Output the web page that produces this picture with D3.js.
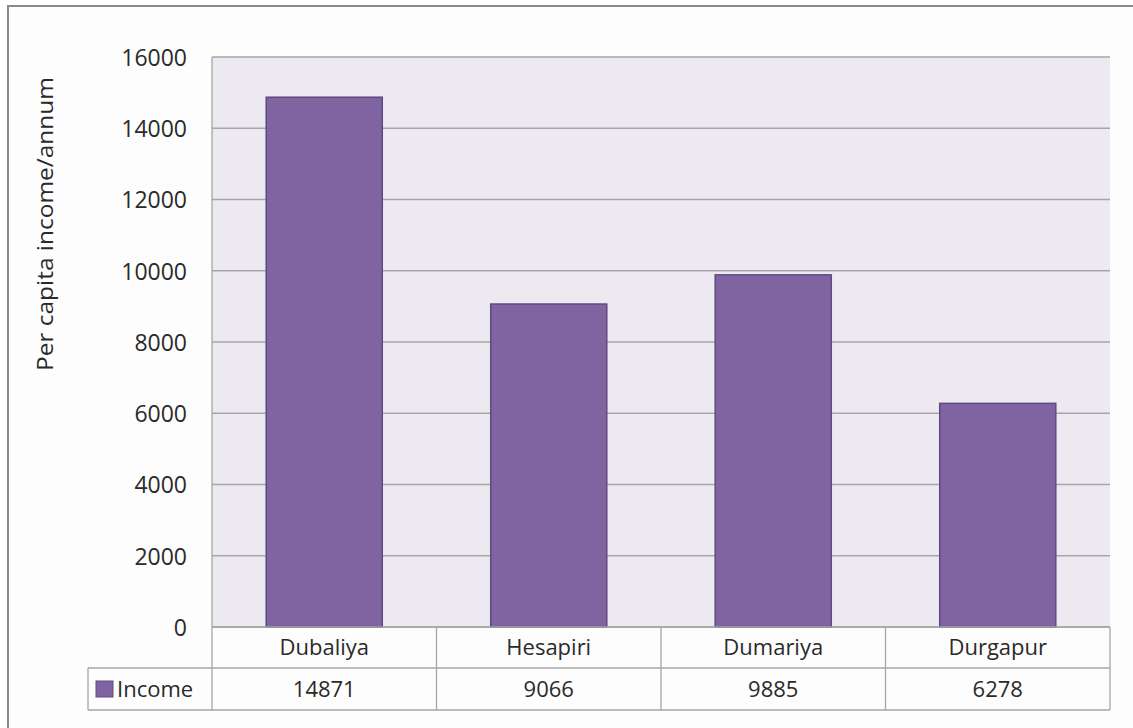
<!DOCTYPE html>
<html><head><meta charset="utf-8">
<script src="https://cdn.jsdelivr.net/npm/d3@7"></script>
<style>body{margin:0;background:#fff;}svg{display:block;font-family:"Open Sans",sans-serif;}</style>
</head><body><svg id="c" width="1133" height="728"></svg>
<script>
const categories = ["Dubaliya","Hesapiri","Dumariya","Durgapur"];
const income = [14871, 9066, 9885, 6278];
const seriesName = "Income";
const yTicks = [0,2000,4000,6000,8000,10000,12000,14000,16000];
const yTitle = "Per capita income/annum";

const svg = d3.select("#c");
const L=212, R=1110, T=57, B=627, row1=668, row2=710, legL=88;
const FONT = "'Open Sans',sans-serif", TXT="#2a2a2a";
// outer frame
svg.append("rect").attr("x",8).attr("y",6).attr("width",1140).attr("height",740)
  .attr("fill","#fdfdfd").attr("stroke","#8a8a8a").attr("stroke-width",2);
svg.append("rect").attr("x",L).attr("y",T).attr("width",R-L).attr("height",B-T).attr("fill","#ECEAF0");

const x = d3.scaleBand().domain(categories).range([L,R]).paddingInner(0.483).paddingOuter(0.2415);
const xb = d3.scaleBand().domain(categories).range([L,R]);
const y = d3.scaleLinear().domain([0,16000]).range([B,T]);

// grid
svg.append("g").selectAll("line").data(yTicks).join("line")
  .attr("x1",L).attr("x2",R).attr("y1",d=>y(d)).attr("y2",d=>y(d))
  .attr("stroke","#a6a6a6").attr("stroke-width",1.3);
svg.append("line").attr("x1",L).attr("x2",L).attr("y1",T).attr("y2",B).attr("stroke","#a6a6a6").attr("stroke-width",1.3);

// bars
svg.append("g").selectAll("rect").data(income).join("rect")
  .attr("x",(d,i)=>x(categories[i])).attr("width",x.bandwidth())
  .attr("y",d=>y(d)).attr("height",d=>B-y(d))
  .attr("fill","#8064A2").attr("stroke","#5E4A82").attr("stroke-width",1.5);

// y axis labels
const ya = svg.append("g").attr("transform",`translate(${L},0)`)
  .call(d3.axisLeft(y).tickValues(yTicks).tickSize(0).tickPadding(25).tickFormat(d3.format("d")));
ya.select(".domain").remove();
ya.selectAll("text").attr("font-size",23).attr("fill",TXT).attr("font-family",FONT).attr("dy","0.36em");

svg.append("text").attr("transform",`translate(53,${224}) rotate(-90)`)
  .attr("text-anchor","middle").attr("font-size",21).attr("fill",TXT)
  .attr("textLength",294).attr("lengthAdjust","spacingAndGlyphs").text(yTitle);

// data table
const tb = svg.append("g").attr("stroke","#a6a6a6").attr("stroke-width",1.3).attr("fill","none");
tb.append("line").attr("x1",L).attr("x2",R).attr("y1",B).attr("y2",B);
tb.append("line").attr("x1",legL).attr("x2",R).attr("y1",row1).attr("y2",row1);
tb.append("line").attr("x1",legL).attr("x2",R).attr("y1",row2).attr("y2",row2);
tb.append("line").attr("x1",legL).attr("x2",legL).attr("y1",row1).attr("y2",row2);
tb.append("line").attr("x1",L).attr("x2",L).attr("y1",B).attr("y2",row2);
tb.selectAll(".v").data(categories).join("line").attr("class","v")
  .attr("x1",d=>xb(d)+xb.bandwidth()).attr("x2",d=>xb(d)+xb.bandwidth()).attr("y1",B).attr("y2",row2);

svg.append("g").selectAll("text").data(categories).join("text")
  .attr("x",d=>xb(d)+xb.bandwidth()/2).attr("y",655).attr("text-anchor","middle")
  .attr("font-size",22).attr("fill",TXT).text(d=>d);
svg.append("g").selectAll("text").data(income).join("text")
  .attr("x",(d,i)=>xb(categories[i])+xb.bandwidth()/2).attr("y",697).attr("text-anchor","middle")
  .attr("font-size",22).attr("fill",TXT).text(d=>d);

svg.append("rect").attr("x",96).attr("y",681).attr("width",17).attr("height",16)
  .attr("fill","#8064A2").attr("stroke","#5E4A82").attr("stroke-width",1);
svg.append("text").attr("x",117).attr("y",697).attr("font-size",22).attr("fill",TXT).text(seriesName);
</script></body></html>
